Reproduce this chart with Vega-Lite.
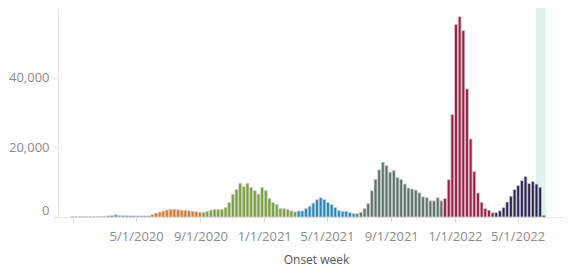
{
  "$schema": "https://vega.github.io/schema/vega-lite/v6.json",
  "width": 507,
  "height": 209,
  "autosize": {"type": "none"},
  "padding": {"left": 58, "top": 8, "right": 7, "bottom": 49},
  "config": {"view": {"stroke": null}, "font": "Open Sans"},
  "datasets": {
    "highlight": [{"week": "2022-06-05", "week_end": "2022-06-24"}],
    "cases": [
      {"week": "2019-12-30", "cases": 60, "wave": "P1"},
      {"week": "2020-01-06", "cases": 60, "wave": "P1"},
      {"week": "2020-01-13", "cases": 70, "wave": "P1"},
      {"week": "2020-01-20", "cases": 80, "wave": "P1"},
      {"week": "2020-01-27", "cases": 80, "wave": "P1"},
      {"week": "2020-02-03", "cases": 90, "wave": "P1"},
      {"week": "2020-02-10", "cases": 100, "wave": "P1"},
      {"week": "2020-02-17", "cases": 120, "wave": "P1"},
      {"week": "2020-02-24", "cases": 150, "wave": "P1"},
      {"week": "2020-03-02", "cases": 200, "wave": "P1"},
      {"week": "2020-03-09", "cases": 300, "wave": "P1"},
      {"week": "2020-03-16", "cases": 400, "wave": "P1"},
      {"week": "2020-03-23", "cases": 650, "wave": "P1"},
      {"week": "2020-03-30", "cases": 400, "wave": "P1"},
      {"week": "2020-04-06", "cases": 350, "wave": "P1"},
      {"week": "2020-04-13", "cases": 350, "wave": "P1"},
      {"week": "2020-04-20", "cases": 320, "wave": "P1"},
      {"week": "2020-04-27", "cases": 320, "wave": "P1"},
      {"week": "2020-05-04", "cases": 300, "wave": "P1"},
      {"week": "2020-05-11", "cases": 300, "wave": "P1"},
      {"week": "2020-05-18", "cases": 300, "wave": "P1"},
      {"week": "2020-05-25", "cases": 320, "wave": "P1"},
      {"week": "2020-06-01", "cases": 730, "wave": "P2"},
      {"week": "2020-06-08", "cases": 1100, "wave": "P2"},
      {"week": "2020-06-15", "cases": 1400, "wave": "P2"},
      {"week": "2020-06-22", "cases": 1700, "wave": "P2"},
      {"week": "2020-06-29", "cases": 2000, "wave": "P2"},
      {"week": "2020-07-06", "cases": 2180, "wave": "P2"},
      {"week": "2020-07-13", "cases": 2180, "wave": "P2"},
      {"week": "2020-07-20", "cases": 2080, "wave": "P2"},
      {"week": "2020-07-27", "cases": 1930, "wave": "P2"},
      {"week": "2020-08-03", "cases": 1930, "wave": "P2"},
      {"week": "2020-08-10", "cases": 1790, "wave": "P2"},
      {"week": "2020-08-17", "cases": 1640, "wave": "P2"},
      {"week": "2020-08-24", "cases": 1500, "wave": "P2"},
      {"week": "2020-08-31", "cases": 1350, "wave": "P2"},
      {"week": "2020-09-07", "cases": 1350, "wave": "P3"},
      {"week": "2020-09-14", "cases": 1650, "wave": "P3"},
      {"week": "2020-09-21", "cases": 1950, "wave": "P3"},
      {"week": "2020-09-28", "cases": 2150, "wave": "P3"},
      {"week": "2020-10-05", "cases": 2150, "wave": "P3"},
      {"week": "2020-10-12", "cases": 2150, "wave": "P3"},
      {"week": "2020-10-19", "cases": 2700, "wave": "P3"},
      {"week": "2020-10-26", "cases": 4150, "wave": "P3"},
      {"week": "2020-11-02", "cases": 6500, "wave": "P3"},
      {"week": "2020-11-09", "cases": 7900, "wave": "P3"},
      {"week": "2020-11-16", "cases": 9660, "wave": "P3"},
      {"week": "2020-11-23", "cases": 8700, "wave": "P3"},
      {"week": "2020-11-30", "cases": 9660, "wave": "P3"},
      {"week": "2020-12-07", "cases": 8500, "wave": "P3"},
      {"week": "2020-12-14", "cases": 7550, "wave": "P3"},
      {"week": "2020-12-21", "cases": 6550, "wave": "P3"},
      {"week": "2020-12-28", "cases": 8500, "wave": "P3"},
      {"week": "2021-01-04", "cases": 7550, "wave": "P3"},
      {"week": "2021-01-11", "cases": 5300, "wave": "P3"},
      {"week": "2021-01-18", "cases": 4150, "wave": "P3"},
      {"week": "2021-01-25", "cases": 3600, "wave": "P3"},
      {"week": "2021-02-01", "cases": 2415, "wave": "P3"},
      {"week": "2021-02-08", "cases": 2415, "wave": "P3"},
      {"week": "2021-02-15", "cases": 2125, "wave": "P3"},
      {"week": "2021-02-22", "cases": 1740, "wave": "P3"},
      {"week": "2021-03-01", "cases": 1450, "wave": "P3"},
      {"week": "2021-03-08", "cases": 1740, "wave": "P4"},
      {"week": "2021-03-15", "cases": 1740, "wave": "P4"},
      {"week": "2021-03-22", "cases": 2415, "wave": "P4"},
      {"week": "2021-03-29", "cases": 3091, "wave": "P4"},
      {"week": "2021-04-05", "cases": 4000, "wave": "P4"},
      {"week": "2021-04-12", "cases": 4950, "wave": "P4"},
      {"week": "2021-04-19", "cases": 5550, "wave": "P4"},
      {"week": "2021-04-26", "cases": 5023, "wave": "P4"},
      {"week": "2021-05-03", "cases": 4154, "wave": "P4"},
      {"week": "2021-05-10", "cases": 3574, "wave": "P4"},
      {"week": "2021-05-17", "cases": 2705, "wave": "P4"},
      {"week": "2021-05-24", "cases": 1835, "wave": "P4"},
      {"week": "2021-05-31", "cases": 1642, "wave": "P4"},
      {"week": "2021-06-07", "cases": 1642, "wave": "P4"},
      {"week": "2021-06-14", "cases": 1256, "wave": "P4"},
      {"week": "2021-06-21", "cases": 966, "wave": "P4"},
      {"week": "2021-06-28", "cases": 966, "wave": "P5"},
      {"week": "2021-07-05", "cases": 1352, "wave": "P5"},
      {"week": "2021-07-12", "cases": 2415, "wave": "P5"},
      {"week": "2021-07-19", "cases": 3864, "wave": "P5"},
      {"week": "2021-07-26", "cases": 7535, "wave": "P5"},
      {"week": "2021-08-02", "cases": 10819, "wave": "P5"},
      {"week": "2021-08-09", "cases": 13524, "wave": "P5"},
      {"week": "2021-08-16", "cases": 15746, "wave": "P5"},
      {"week": "2021-08-23", "cases": 14780, "wave": "P5"},
      {"week": "2021-08-30", "cases": 12848, "wave": "P5"},
      {"week": "2021-09-06", "cases": 13331, "wave": "P5"},
      {"week": "2021-09-13", "cases": 11302, "wave": "P5"},
      {"week": "2021-09-20", "cases": 10819, "wave": "P5"},
      {"week": "2021-09-27", "cases": 9467, "wave": "P5"},
      {"week": "2021-10-04", "cases": 8300, "wave": "P5"},
      {"week": "2021-10-11", "cases": 8018, "wave": "P5"},
      {"week": "2021-10-18", "cases": 7728, "wave": "P5"},
      {"week": "2021-10-25", "cases": 6955, "wave": "P5"},
      {"week": "2021-11-01", "cases": 5796, "wave": "P5"},
      {"week": "2021-11-08", "cases": 5550, "wave": "P5"},
      {"week": "2021-11-15", "cases": 4637, "wave": "P5"},
      {"week": "2021-11-22", "cases": 4637, "wave": "P5"},
      {"week": "2021-11-29", "cases": 5550, "wave": "P5"},
      {"week": "2021-12-06", "cases": 4637, "wave": "P5"},
      {"week": "2021-12-13", "cases": 5300, "wave": "P6"},
      {"week": "2021-12-20", "cases": 10700, "wave": "P6"},
      {"week": "2021-12-27", "cases": 29400, "wave": "P6"},
      {"week": "2022-01-03", "cases": 55300, "wave": "P6"},
      {"week": "2022-01-10", "cases": 57500, "wave": "P6"},
      {"week": "2022-01-17", "cases": 53500, "wave": "P6"},
      {"week": "2022-01-24", "cases": 36800, "wave": "P6"},
      {"week": "2022-01-31", "cases": 22400, "wave": "P6"},
      {"week": "2022-02-07", "cases": 13100, "wave": "P6"},
      {"week": "2022-02-14", "cases": 6900, "wave": "P6"},
      {"week": "2022-02-21", "cases": 4200, "wave": "P6"},
      {"week": "2022-02-28", "cases": 2450, "wave": "P6"},
      {"week": "2022-03-07", "cases": 1950, "wave": "P6"},
      {"week": "2022-03-14", "cases": 1250, "wave": "P6"},
      {"week": "2022-03-21", "cases": 1250, "wave": "P7"},
      {"week": "2022-03-28", "cases": 1780, "wave": "P7"},
      {"week": "2022-04-04", "cases": 2700, "wave": "P7"},
      {"week": "2022-04-11", "cases": 4300, "wave": "P7"},
      {"week": "2022-04-18", "cases": 5950, "wave": "P7"},
      {"week": "2022-04-25", "cases": 7870, "wave": "P7"},
      {"week": "2022-05-02", "cases": 9030, "wave": "P7"},
      {"week": "2022-05-09", "cases": 10430, "wave": "P7"},
      {"week": "2022-05-16", "cases": 11650, "wave": "P7"},
      {"week": "2022-05-23", "cases": 9620, "wave": "P7"},
      {"week": "2022-05-30", "cases": 10200, "wave": "P7"},
      {"week": "2022-06-06", "cases": 9470, "wave": "P7"},
      {"week": "2022-06-13", "cases": 8550, "wave": "P7"},
      {"week": "2022-06-20", "cases": 480, "wave": "P7"}
    ]
  },
  "encoding": {
    "x": {
      "field": "week",
      "type": "temporal",
      "scale": {
        "type": "utc",
        "nice": false,
        "domain": [
          {"year": 2019, "month": 12, "date": 13, "utc": true},
          {"year": 2022, "month": 7, "date": 21, "utc": true}
        ]
      },
      "axis": {
        "values": [
          {"year": 2020, "month": 1, "date": 1, "utc": true},
          {"year": 2020, "month": 5, "date": 1, "utc": true},
          {"year": 2020, "month": 9, "date": 1, "utc": true},
          {"year": 2021, "month": 1, "date": 1, "utc": true},
          {"year": 2021, "month": 5, "date": 1, "utc": true},
          {"year": 2021, "month": 9, "date": 1, "utc": true},
          {"year": 2022, "month": 1, "date": 1, "utc": true},
          {"year": 2022, "month": 5, "date": 1, "utc": true}
        ],
        "format": "%-m/%-d/%Y",
        "labelExpr": "datum.value < 1580000000000 ? '' : datum.label",
        "grid": false,
        "tickSize": 5,
        "labelPadding": 8,
        "labelFontSize": 13,
        "labelColor": "#8c8c8c",
        "labelFlush": false,
        "labelOverlap": false,
        "domainColor": "#e6e6e6",
        "tickColor": "#dcdcdc",
        "title": "Onset week",
        "titleFontSize": 12,
        "titleFontWeight": "normal",
        "titleColor": "#555555",
        "titleX": 258,
        "titleY": 46,
        "titleBaseline": "alphabetic"
      }
    }
  },
  "layer": [
    {
      "data": {"name": "highlight"},
      "mark": {"type": "rect", "color": "#e2f2ec"},
      "encoding": {"x2": {"field": "week_end"}}
    },
    {
      "data": {"name": "cases"},
      "mark": {"type": "bar", "size": 2.9, "stroke": "#cfcfcf", "strokeWidth": 0.8},
      "encoding": {
        "y": {
          "field": "cases",
          "type": "quantitative",
          "scale": {"domain": [0, 60000], "nice": false},
          "axis": {
            "values": [0, 20000, 40000],
            "format": ",d",
            "title": null,
            "grid": false,
            "labelFlush": true,
            "tickSize": 5,
            "labelPadding": 4,
            "labelFontSize": 13,
            "labelColor": "#8c8c8c",
            "tickColor": "#e0e0e0",
            "domainColor": "#ebebeb"
          }
        },
        "color": {
          "field": "wave",
          "type": "nominal",
          "legend": null,
          "scale": {
            "domain": ["P1", "P2", "P3", "P4", "P5", "P6", "P7"],
            "range": ["#4e79a7", "#e8761d", "#78a235", "#1b8bc1", "#5c7466", "#a31b43", "#272456"]
          }
        }
      }
    }
  ]
}
